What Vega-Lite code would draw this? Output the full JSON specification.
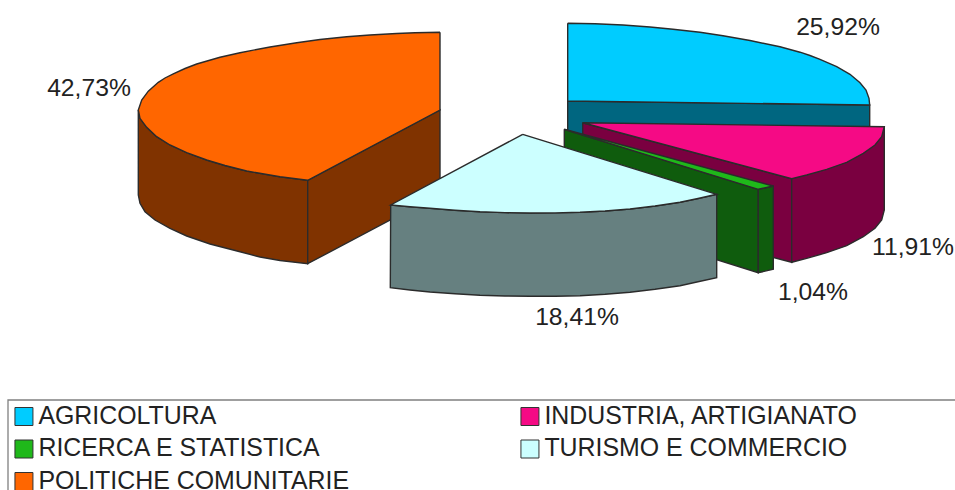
{
"$schema":"https://vega.github.io/schema/vega-lite/v6.json",
"width":955,"height":490,"padding":0,"autosize":{"type":"none"},
"background":"white",
"view":{"stroke":null},
"config":{"font":"Liberation Sans"},
"datasets":{
"sides":[
{"sector":"POLITICHE COMUNITARIE","face":"o1","i":1,"x":138.3,"y":110},{"sector":"POLITICHE COMUNITARIE","face":"o1","i":2,"x":140,"y":118.3},{"sector":"POLITICHE COMUNITARIE","face":"o1","i":3,"x":146.7,"y":127.3},{"sector":"POLITICHE COMUNITARIE","face":"o1","i":4,"x":156.7,"y":136.7},{"sector":"POLITICHE COMUNITARIE","face":"o1","i":5,"x":170,"y":145},{"sector":"POLITICHE COMUNITARIE","face":"o1","i":6,"x":186.7,"y":152.7},{"sector":"POLITICHE COMUNITARIE","face":"o1","i":7,"x":206.7,"y":160},{"sector":"POLITICHE COMUNITARIE","face":"o1","i":8,"x":225,"y":165.5},{"sector":"POLITICHE COMUNITARIE","face":"o1","i":9,"x":246.7,"y":171},{"sector":"POLITICHE COMUNITARIE","face":"o1","i":10,"x":280,"y":176.7},{"sector":"POLITICHE COMUNITARIE","face":"o1","i":11,"x":307.7,"y":180.3},{"sector":"POLITICHE COMUNITARIE","face":"o1","i":12,"x":307.7,"y":263.7},{"sector":"POLITICHE COMUNITARIE","face":"o1","i":13,"x":280,"y":260.5},{"sector":"POLITICHE COMUNITARIE","face":"o1","i":14,"x":260,"y":257},{"sector":"POLITICHE COMUNITARIE","face":"o1","i":15,"x":240,"y":251.7},{"sector":"POLITICHE COMUNITARIE","face":"o1","i":16,"x":210,"y":244},{"sector":"POLITICHE COMUNITARIE","face":"o1","i":17,"x":186.7,"y":236},{"sector":"POLITICHE COMUNITARIE","face":"o1","i":18,"x":170,"y":228.3},{"sector":"POLITICHE COMUNITARIE","face":"o1","i":19,"x":155,"y":220},{"sector":"POLITICHE COMUNITARIE","face":"o1","i":20,"x":145,"y":211.7},{"sector":"POLITICHE COMUNITARIE","face":"o1","i":21,"x":140,"y":203.3},{"sector":"POLITICHE COMUNITARIE","face":"o1","i":22,"x":138.3,"y":195},{"sector":"POLITICHE COMUNITARIE","face":"o1","i":23,"x":138.3,"y":110},
{"sector":"POLITICHE COMUNITARIE","face":"o2","i":1,"x":307.7,"y":180.3},{"sector":"POLITICHE COMUNITARIE","face":"o2","i":2,"x":440,"y":110},{"sector":"POLITICHE COMUNITARIE","face":"o2","i":3,"x":440,"y":193.5},{"sector":"POLITICHE COMUNITARIE","face":"o2","i":4,"x":307.7,"y":263.7},{"sector":"POLITICHE COMUNITARIE","face":"o2","i":5,"x":307.7,"y":180.3},
{"sector":"AGRICOLTURA","face":"a1","i":1,"x":567.7,"y":101},{"sector":"AGRICOLTURA","face":"a1","i":2,"x":869.7,"y":105},{"sector":"AGRICOLTURA","face":"a1","i":3,"x":869.7,"y":130},{"sector":"AGRICOLTURA","face":"a1","i":4,"x":567.7,"y":135},{"sector":"AGRICOLTURA","face":"a1","i":5,"x":567.7,"y":101},
{"sector":"INDUSTRIA, ARTIGIANATO","face":"m1","i":1,"x":582.7,"y":122.7},{"sector":"INDUSTRIA, ARTIGIANATO","face":"m1","i":2,"x":791.7,"y":178.7},{"sector":"INDUSTRIA, ARTIGIANATO","face":"m1","i":3,"x":791.7,"y":262.3},{"sector":"INDUSTRIA, ARTIGIANATO","face":"m1","i":4,"x":582.7,"y":207},{"sector":"INDUSTRIA, ARTIGIANATO","face":"m1","i":5,"x":582.7,"y":122.7},
{"sector":"INDUSTRIA, ARTIGIANATO","face":"m2","i":1,"x":884.3,"y":126.7},{"sector":"INDUSTRIA, ARTIGIANATO","face":"m2","i":2,"x":884.3,"y":210},{"sector":"INDUSTRIA, ARTIGIANATO","face":"m2","i":3,"x":881.7,"y":220},{"sector":"INDUSTRIA, ARTIGIANATO","face":"m2","i":4,"x":875,"y":228.3},{"sector":"INDUSTRIA, ARTIGIANATO","face":"m2","i":5,"x":863.3,"y":236.7},{"sector":"INDUSTRIA, ARTIGIANATO","face":"m2","i":6,"x":846.7,"y":245.7},{"sector":"INDUSTRIA, ARTIGIANATO","face":"m2","i":7,"x":826.7,"y":252.7},{"sector":"INDUSTRIA, ARTIGIANATO","face":"m2","i":8,"x":806.7,"y":258.3},{"sector":"INDUSTRIA, ARTIGIANATO","face":"m2","i":9,"x":791.7,"y":262.3},{"sector":"INDUSTRIA, ARTIGIANATO","face":"m2","i":10,"x":791.7,"y":178.7},{"sector":"INDUSTRIA, ARTIGIANATO","face":"m2","i":11,"x":884.3,"y":126.7},
{"sector":"RICERCA E STATISTICA","face":"g1","i":1,"x":564.3,"y":129.3},{"sector":"RICERCA E STATISTICA","face":"g1","i":2,"x":758.3,"y":189.3},{"sector":"RICERCA E STATISTICA","face":"g1","i":3,"x":758.3,"y":272.7},{"sector":"RICERCA E STATISTICA","face":"g1","i":4,"x":564.3,"y":212},{"sector":"RICERCA E STATISTICA","face":"g1","i":5,"x":564.3,"y":129.3},
{"sector":"RICERCA E STATISTICA","face":"g2","i":1,"x":758.3,"y":189.3},{"sector":"RICERCA E STATISTICA","face":"g2","i":2,"x":773.3,"y":186},{"sector":"RICERCA E STATISTICA","face":"g2","i":3,"x":773.3,"y":269.3},{"sector":"RICERCA E STATISTICA","face":"g2","i":4,"x":758.3,"y":272.7},{"sector":"RICERCA E STATISTICA","face":"g2","i":5,"x":758.3,"y":189.3},
{"sector":"TURISMO E COMMERCIO","face":"t1","i":1,"x":390.7,"y":205},{"sector":"TURISMO E COMMERCIO","face":"t1","i":2,"x":410,"y":206.8},{"sector":"TURISMO E COMMERCIO","face":"t1","i":3,"x":430,"y":208.3},{"sector":"TURISMO E COMMERCIO","face":"t1","i":4,"x":455,"y":210.2},{"sector":"TURISMO E COMMERCIO","face":"t1","i":5,"x":480,"y":211.7},{"sector":"TURISMO E COMMERCIO","face":"t1","i":6,"x":505,"y":212.6},{"sector":"TURISMO E COMMERCIO","face":"t1","i":7,"x":530,"y":213},{"sector":"TURISMO E COMMERCIO","face":"t1","i":8,"x":555,"y":212.9},{"sector":"TURISMO E COMMERCIO","face":"t1","i":9,"x":580,"y":212.3},{"sector":"TURISMO E COMMERCIO","face":"t1","i":10,"x":605,"y":211},{"sector":"TURISMO E COMMERCIO","face":"t1","i":11,"x":630,"y":209},{"sector":"TURISMO E COMMERCIO","face":"t1","i":12,"x":655,"y":206},{"sector":"TURISMO E COMMERCIO","face":"t1","i":13,"x":680,"y":202.3},{"sector":"TURISMO E COMMERCIO","face":"t1","i":14,"x":698,"y":198.5},{"sector":"TURISMO E COMMERCIO","face":"t1","i":15,"x":716.7,"y":194.3},{"sector":"TURISMO E COMMERCIO","face":"t1","i":16,"x":716.7,"y":277.7},{"sector":"TURISMO E COMMERCIO","face":"t1","i":17,"x":698,"y":281.8},{"sector":"TURISMO E COMMERCIO","face":"t1","i":18,"x":680,"y":285.7},{"sector":"TURISMO E COMMERCIO","face":"t1","i":19,"x":655,"y":289.3},{"sector":"TURISMO E COMMERCIO","face":"t1","i":20,"x":630,"y":292.3},{"sector":"TURISMO E COMMERCIO","face":"t1","i":21,"x":605,"y":294.3},{"sector":"TURISMO E COMMERCIO","face":"t1","i":22,"x":580,"y":295.7},{"sector":"TURISMO E COMMERCIO","face":"t1","i":23,"x":555,"y":296.2},{"sector":"TURISMO E COMMERCIO","face":"t1","i":24,"x":530,"y":296.3},{"sector":"TURISMO E COMMERCIO","face":"t1","i":25,"x":505,"y":296},{"sector":"TURISMO E COMMERCIO","face":"t1","i":26,"x":480,"y":295.2},{"sector":"TURISMO E COMMERCIO","face":"t1","i":27,"x":455,"y":293.8},{"sector":"TURISMO E COMMERCIO","face":"t1","i":28,"x":430,"y":292},{"sector":"TURISMO E COMMERCIO","face":"t1","i":29,"x":410,"y":290},{"sector":"TURISMO E COMMERCIO","face":"t1","i":30,"x":390.3,"y":287.7},{"sector":"TURISMO E COMMERCIO","face":"t1","i":31,"x":390.7,"y":205}
],
"tops":[
{"sector":"AGRICOLTURA","i":1,"x":567.7,"y":23.3},{"sector":"AGRICOLTURA","i":2,"x":595,"y":23.8},{"sector":"AGRICOLTURA","i":3,"x":623,"y":25},{"sector":"AGRICOLTURA","i":4,"x":650,"y":27},{"sector":"AGRICOLTURA","i":5,"x":673,"y":29.3},{"sector":"AGRICOLTURA","i":6,"x":700,"y":32.3},{"sector":"AGRICOLTURA","i":7,"x":723,"y":35.7},{"sector":"AGRICOLTURA","i":8,"x":750,"y":40.5},{"sector":"AGRICOLTURA","i":9,"x":780,"y":46.8},{"sector":"AGRICOLTURA","i":10,"x":800,"y":52.2},{"sector":"AGRICOLTURA","i":11,"x":810,"y":55.5},{"sector":"AGRICOLTURA","i":12,"x":820,"y":59.3},{"sector":"AGRICOLTURA","i":13,"x":836.7,"y":66.7},{"sector":"AGRICOLTURA","i":14,"x":850,"y":74.3},{"sector":"AGRICOLTURA","i":15,"x":860,"y":82.7},{"sector":"AGRICOLTURA","i":16,"x":866,"y":90},{"sector":"AGRICOLTURA","i":17,"x":869,"y":98.3},{"sector":"AGRICOLTURA","i":18,"x":869.7,"y":105},{"sector":"AGRICOLTURA","i":19,"x":567.7,"y":101},{"sector":"AGRICOLTURA","i":20,"x":567.7,"y":23.3},
{"sector":"INDUSTRIA, ARTIGIANATO","i":1,"x":582.7,"y":122.7},{"sector":"INDUSTRIA, ARTIGIANATO","i":2,"x":884.3,"y":126.7},{"sector":"INDUSTRIA, ARTIGIANATO","i":3,"x":881.7,"y":136.7},{"sector":"INDUSTRIA, ARTIGIANATO","i":4,"x":875,"y":145},{"sector":"INDUSTRIA, ARTIGIANATO","i":5,"x":863.3,"y":153.3},{"sector":"INDUSTRIA, ARTIGIANATO","i":6,"x":846.7,"y":162.3},{"sector":"INDUSTRIA, ARTIGIANATO","i":7,"x":826.7,"y":169.3},{"sector":"INDUSTRIA, ARTIGIANATO","i":8,"x":806.7,"y":175},{"sector":"INDUSTRIA, ARTIGIANATO","i":9,"x":791.7,"y":178.7},{"sector":"INDUSTRIA, ARTIGIANATO","i":10,"x":582.7,"y":122.7},
{"sector":"RICERCA E STATISTICA","i":1,"x":564.3,"y":129.3},{"sector":"RICERCA E STATISTICA","i":2,"x":773.3,"y":186},{"sector":"RICERCA E STATISTICA","i":3,"x":758.3,"y":189.3},{"sector":"RICERCA E STATISTICA","i":4,"x":564.3,"y":129.3},
{"sector":"TURISMO E COMMERCIO","i":1,"x":522.7,"y":134.3},{"sector":"TURISMO E COMMERCIO","i":2,"x":716.7,"y":194.3},{"sector":"TURISMO E COMMERCIO","i":3,"x":698,"y":198.5},{"sector":"TURISMO E COMMERCIO","i":4,"x":680,"y":202.3},{"sector":"TURISMO E COMMERCIO","i":5,"x":655,"y":206},{"sector":"TURISMO E COMMERCIO","i":6,"x":630,"y":209},{"sector":"TURISMO E COMMERCIO","i":7,"x":605,"y":211},{"sector":"TURISMO E COMMERCIO","i":8,"x":580,"y":212.3},{"sector":"TURISMO E COMMERCIO","i":9,"x":555,"y":212.9},{"sector":"TURISMO E COMMERCIO","i":10,"x":530,"y":213},{"sector":"TURISMO E COMMERCIO","i":11,"x":505,"y":212.6},{"sector":"TURISMO E COMMERCIO","i":12,"x":480,"y":211.7},{"sector":"TURISMO E COMMERCIO","i":13,"x":455,"y":210.2},{"sector":"TURISMO E COMMERCIO","i":14,"x":430,"y":208.3},{"sector":"TURISMO E COMMERCIO","i":15,"x":410,"y":206.8},{"sector":"TURISMO E COMMERCIO","i":16,"x":390.7,"y":205},{"sector":"TURISMO E COMMERCIO","i":17,"x":522.7,"y":134.3},
{"sector":"POLITICHE COMUNITARIE","i":1,"x":440,"y":32.3},{"sector":"POLITICHE COMUNITARIE","i":2,"x":415,"y":32.8},{"sector":"POLITICHE COMUNITARIE","i":3,"x":396.7,"y":33.5},{"sector":"POLITICHE COMUNITARIE","i":4,"x":370,"y":35},{"sector":"POLITICHE COMUNITARIE","i":5,"x":346.7,"y":36.7},{"sector":"POLITICHE COMUNITARIE","i":6,"x":320,"y":39.5},{"sector":"POLITICHE COMUNITARIE","i":7,"x":296.7,"y":42.7},{"sector":"POLITICHE COMUNITARIE","i":8,"x":270,"y":47},{"sector":"POLITICHE COMUNITARIE","i":9,"x":240,"y":52.7},{"sector":"POLITICHE COMUNITARIE","i":10,"x":220,"y":57.3},{"sector":"POLITICHE COMUNITARIE","i":11,"x":196.7,"y":64},{"sector":"POLITICHE COMUNITARIE","i":12,"x":185,"y":68.5},{"sector":"POLITICHE COMUNITARIE","i":13,"x":173.3,"y":73.8},{"sector":"POLITICHE COMUNITARIE","i":14,"x":165,"y":78},{"sector":"POLITICHE COMUNITARIE","i":15,"x":158.3,"y":82.3},{"sector":"POLITICHE COMUNITARIE","i":16,"x":148.3,"y":91.2},{"sector":"POLITICHE COMUNITARIE","i":17,"x":141.7,"y":100},{"sector":"POLITICHE COMUNITARIE","i":18,"x":138.3,"y":110},{"sector":"POLITICHE COMUNITARIE","i":19,"x":140,"y":118.3},{"sector":"POLITICHE COMUNITARIE","i":20,"x":146.7,"y":127.3},{"sector":"POLITICHE COMUNITARIE","i":21,"x":156.7,"y":136.7},{"sector":"POLITICHE COMUNITARIE","i":22,"x":170,"y":145},{"sector":"POLITICHE COMUNITARIE","i":23,"x":186.7,"y":152.7},{"sector":"POLITICHE COMUNITARIE","i":24,"x":206.7,"y":160},{"sector":"POLITICHE COMUNITARIE","i":25,"x":225,"y":165.5},{"sector":"POLITICHE COMUNITARIE","i":26,"x":246.7,"y":171},{"sector":"POLITICHE COMUNITARIE","i":27,"x":280,"y":176.7},{"sector":"POLITICHE COMUNITARIE","i":28,"x":307.7,"y":180.3},{"sector":"POLITICHE COMUNITARIE","i":29,"x":440,"y":110},{"sector":"POLITICHE COMUNITARIE","i":30,"x":440,"y":32.3}
],
"labels":[
{"label":"25,92%","x":838,"y":28},{"label":"11,91%","x":913,"y":248},{"label":"1,04%","x":813,"y":293},{"label":"18,41%","x":577,"y":318},{"label":"42,73%","x":89,"y":89}
],
"frame":[{"i":1,"x":8,"y":490},{"i":2,"x":8,"y":400},{"i":3,"x":955,"y":400}]
},
"encoding":{
"x":{"field":"x","type":"quantitative","scale":{"domain":[0,955],"nice":false,"zero":false},"axis":null},
"y":{"field":"y","type":"quantitative","scale":{"domain":[490,0],"nice":false,"zero":false},"axis":null}
},
"layer":[
{"data":{"name":"frame"},"mark":{"type":"line","stroke":"#808080","strokeWidth":1.3},"encoding":{"order":{"field":"i"}}},
{"data":{"name":"sides"},
 "mark":{"type":"line","stroke":"#2b2b2b","strokeWidth":1.4},
 "encoding":{"order":{"field":"i"},"detail":{"field":"face"},
  "fill":{"field":"sector","type":"nominal","legend":null,"scale":{"domain":["AGRICOLTURA","INDUSTRIA, ARTIGIANATO","RICERCA E STATISTICA","TURISMO E COMMERCIO","POLITICHE COMUNITARIE"],"range":["#006680","#7A0040","#0F5C0D","#668080","#803300"]}}}},
{"data":{"name":"tops"},
 "mark":{"type":"line","stroke":"#2b2b2b","strokeWidth":1.4},
 "encoding":{"order":{"field":"i"},
  "fill":{"field":"sector","type":"nominal","sort":null,"scale":{"domain":["AGRICOLTURA","INDUSTRIA, ARTIGIANATO","RICERCA E STATISTICA","TURISMO E COMMERCIO","POLITICHE COMUNITARIE"],"range":["#00CCFF","#F50A85","#1FB81A","#CCFFFF","#FF6600"]},
   "legend":{"title":null,"orient":"none","legendX":11.5,"legendY":404,"direction":"horizontal","columns":2,"columnPadding":168,"rowPadding":6.5,"symbolType":"square","symbolSize":324,"symbolStrokeColor":"#333333","symbolStrokeWidth":1,"symbolOpacity":1,"labelFont":"Liberation Sans","labelFontSize":24.9,"labelColor":"#222222","labelLimit":500,"labelOffset":2,"clipHeight":25}}}},
{"data":{"name":"labels"},
 "mark":{"type":"text","font":"Liberation Sans","fontSize":24.7,"color":"#222222","align":"center","baseline":"middle"},
 "encoding":{"text":{"field":"label"}}}
],
"resolve":{"scale":{"fill":"independent"}}
}
